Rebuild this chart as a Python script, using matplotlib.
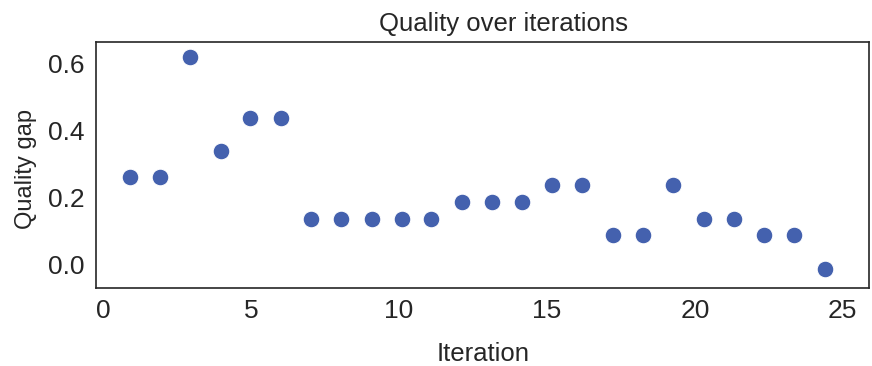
import matplotlib
matplotlib.use("Agg")
import matplotlib.pyplot as plt

iterations = [0.91, 1.92, 2.93, 3.97, 4.96, 6.00, 7.02, 8.04, 9.08, 10.09, 11.09, 12.13,
              13.15, 14.16, 15.17, 16.20, 17.22, 18.23, 19.26, 20.30, 21.31, 22.34, 23.34, 24.39]
quality_gap = [0.263, 0.263, 0.619, 0.338, 0.438, 0.438, 0.138, 0.138, 0.138, 0.138, 0.138, 0.188,
               0.188, 0.188, 0.238, 0.238, 0.088, 0.088, 0.238, 0.138, 0.138, 0.088, 0.088, -0.012]
xticks = [0, 5, 10, 15, 20, 25]
yticks = [0.0, 0.2, 0.4, 0.6]

plt.rcParams['font.family'] = ['Liberation Sans', 'DejaVu Sans']
text_color = '#262626'

fig = plt.figure(figsize=(8.72, 3.66), dpi=100)
ax = fig.add_axes([0.110, 0.214, 0.887, 0.672])
ax.scatter(iterations, quality_gap, s=145, color='#4461AE', edgecolor='white', linewidth=0.8, zorder=3)

ax.set_xlim(-0.25, 25.9)
ax.set_ylim(-0.068, 0.665)
ax.set_xticks(xticks)
ax.set_yticks(yticks)
ax.set_yticklabels([f"{v:.1f}" for v in yticks])
ax.tick_params(axis='both', length=0, labelsize=19, colors=text_color, pad=8)
for sp in ax.spines.values():
    sp.set_color('#262626')
    sp.set_linewidth(1.2)

ax.set_title("Quality over iterations", fontsize=18.5, color=text_color, pad=8, x=0.527)
ax.set_xlabel("Iteration", fontsize=18.5, color=text_color, labelpad=14)
ax.set_ylabel("Quality gap", fontsize=17, color=text_color)
ax.yaxis.set_label_coords(-0.076, 0.4825)

fig.savefig("out.png", dpi=100)
